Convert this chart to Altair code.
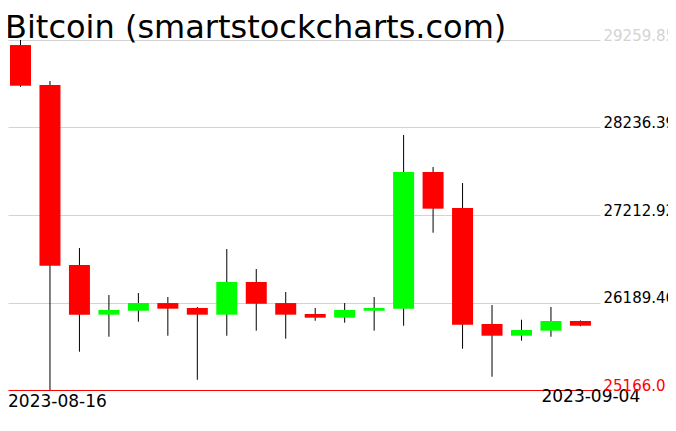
import altair as alt
import pandas as pd

dates = ["2023-08-16", "2023-08-17", "2023-08-18", "2023-08-19", "2023-08-20",
         "2023-08-21", "2023-08-22", "2023-08-23", "2023-08-24", "2023-08-25",
         "2023-08-26", "2023-08-27", "2023-08-28", "2023-08-29", "2023-08-30",
         "2023-08-31", "2023-09-01", "2023-09-02", "2023-09-03", "2023-09-04"]
opens = [29201, 28733, 26628, 26047, 26093, 26183, 26125, 26047, 26429, 26183,
         26055, 26012, 26093, 26117, 27716, 27295, 25938, 25801, 25860, 25973]
highs = [29259.85, 28780, 26827, 26277, 26300, 26254, 26137, 26815, 26581, 26312,
         26125, 26183, 26254, 28149, 27774, 27587, 26160, 25988, 26137, 25980]
lows = [28712, 25166.0, 25614, 25789, 25965, 25801, 25286, 25801, 25860, 25766,
        25976, 25953, 25860, 25918, 27006, 25649, 25321, 25743, 25789, 25912]
closes = [28725, 26620, 26047, 26102, 26183, 26117, 26047, 26429, 26175, 26047,
          26012, 26102, 26125, 27716, 27287, 25930, 25801, 25868, 25973, 25918]

y_ticks = [25166.0, 26189.46, 27212.92, 28236.39, 29259.85]
y_tick_labels = ["25166.0", "26189.46", "27212.92", "28236.39", "29259.85"]

df = pd.DataFrame({
    "date": dates,
    "idx": list(range(len(dates))),
    "open": opens,
    "high": highs,
    "low": lows,
    "close": closes,
})

n = len(dates)
xscale = alt.Scale(domain=[-0.4242, 19.664], nice=False, zero=False, padding=0)
yscale = alt.Scale(domain=[y_ticks[0], y_ticks[-1]], nice=False, zero=False, padding=0)

y_label_expr = ("[" + ",".join("'%s'" % s for s in y_tick_labels) + "][indexof(["
                + ",".join(repr(v) for v in y_ticks) + "], datum.value)]")
x_label_expr = "[" + ",".join("'%s'" % d for d in dates) + "][datum.value]"

yaxis = alt.Axis(
    orient="right", values=y_ticks, labelExpr=y_label_expr, grid=True,
    gridColor={"condition": {"test": "datum.value == %r" % y_ticks[0], "value": "#ff0000"},
               "value": "#d3d3d3"},
    labelColor={"condition": [
        {"test": "datum.value == %r" % y_ticks[0], "value": "#ff0000"},
        {"test": "datum.value == %r" % y_ticks[-1], "value": "#d3d3d3"}],
        "value": "#000000"},
    ticks=False, domain=False, labelPadding=3, labelBaseline="alphabetic",
    labelAlign="left", labelFont="DejaVu Sans", labelFontSize=15,
    labelFlush=False, labelOverlap=False, labelBound=False, title=None,
)

xaxis = alt.Axis(
    orient="bottom", values=[0, n - 1], labelExpr=x_label_expr, grid=False,
    ticks=False, domain=False, labelAlign="left", labelBaseline="alphabetic",
    labelOffset={"condition": {"test": "datum.value == 0", "value": -13}, "value": -39.5},
    labelPadding={"condition": {"test": "datum.value == 0", "value": 16}, "value": 11},
    labelFont="DejaVu Sans", labelFontSize=17, labelColor="#000000",
    labelFlush=False, labelOverlap=False, labelBound=False, title=None,
)

base = alt.Chart(df)

wick = base.mark_rule(color="#000000", strokeWidth=1).encode(
    x=alt.X("idx:Q", scale=xscale, axis=xaxis),
    y=alt.Y("low:Q", scale=yscale, axis=yaxis),
    y2="high:Q",
)

body = base.mark_bar(size=21).encode(
    x=alt.X("idx:Q", scale=xscale),
    y=alt.Y("open:Q", scale=yscale),
    y2="close:Q",
    color=alt.condition("datum.close >= datum.open", alt.value("#00ff00"), alt.value("#ff0000")),
)

chart = alt.layer(wick, body).properties(
    width=592,
    height=350,
    autosize=alt.AutoSizeParams(type="none"),
    padding={"left": 0, "top": 32, "right": 68, "bottom": 25},
    background="#ffffff",
    title=alt.TitleParams(
        "Bitcoin (smartstockcharts.com)", anchor="start", frame="group",
        font="DejaVu Sans", fontSize=32, fontWeight="normal", color="#000000",
        offset=-17, dx=-3,
    ),
).configure_view(strokeWidth=0)

chart.save("out.html", embed_options={"renderer": "svg", "actions": False})
